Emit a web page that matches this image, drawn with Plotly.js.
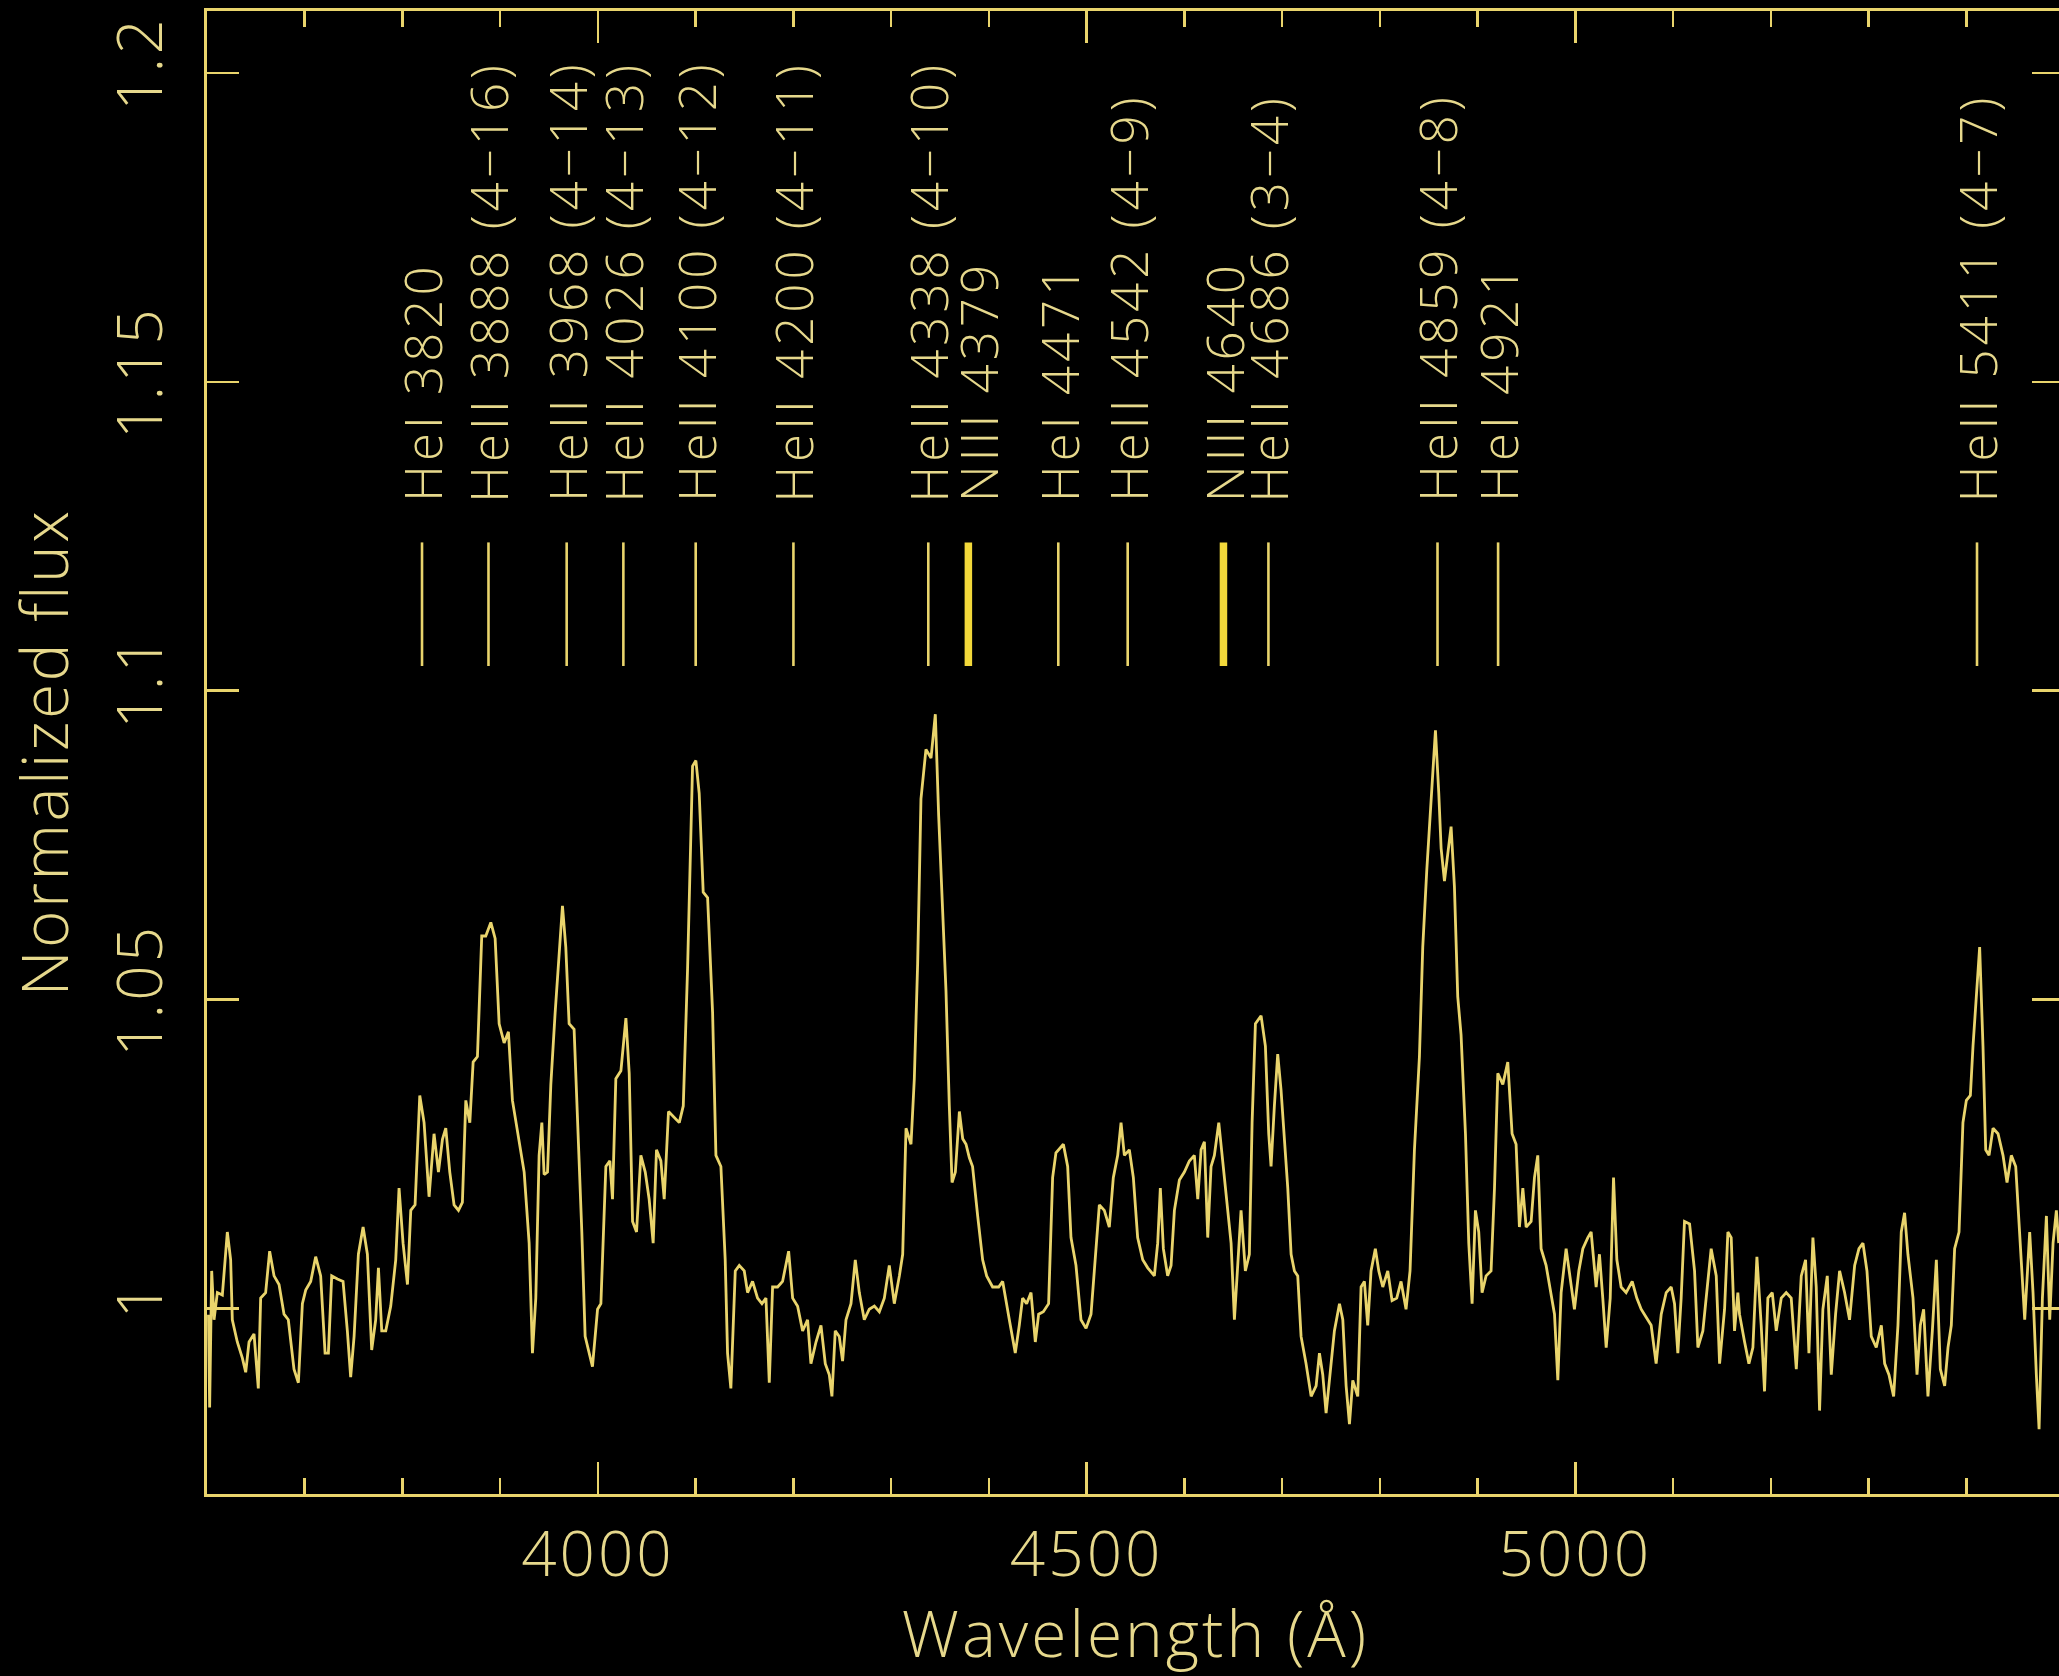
<!DOCTYPE html>
<html>
<head>
<meta charset="utf-8">
<script src="https://cdn.plot.ly/plotly-3.0.1.min.js"></script>
<style>
html, body { margin:0; padding:0; background:#000; overflow:hidden; }
#chart { width:2070px; height:1676px; }
#chart .annotation-text { letter-spacing: 4px; }
#chart .xtick text, #chart .ytick text { letter-spacing: 3px; }
#chart text.xtitle { letter-spacing: 3px; }
#chart text.ytitle { letter-spacing: 2.5px; }
</style>
</head>
<body>
<div id="chart"></div>
<script>
// Spectrum (wavelength in Angstrom, normalized flux)
const wavelength = [
3601.5,3602.7,3604.8,3607.2,3610.6,3615.7,3620.8,3624.2,3625.9,3631.0,3636.2,3639.6,3643.0,3648.1,3652.5,3654.9,3660.0,3664.1,3668.6,3673.7,
3678.8,3683.2,3689.0,3693.5,3697.6,3701.0,3706.1,3711.2,3716.3,3720.8,3724.2,3727.6,3733.4,3739.2,3743.6,3747.0,3750.5,3754.9,3759.7,3764.1,
3768.5,3772.6,3775.4,3778.8,3782.9,3788.0,3793.1,3796.5,3800.6,3805.1,3808.5,3812.9,3817.7,3822.1,3827.2,3832.3,3836.8,3840.9,3844.3,3848.4,
3852.8,3857.3,3861.3,3864.8,3868.9,3872.3,3876.7,3881.1,3885.2,3890.4,3894.8,3898.9,3904.0,3908.4,3912.5,3919.4,3924.5,3929.6,3933.0,3936.4,
3939.8,3942.6,3944.9,3948.4,3951.8,3956.2,3960.3,3963.7,3967.1,3970.5,3975.6,3979.1,3983.5,3986.9,3991.0,3994.4,
3999.6,4003.0,4008.1,4012.2,4014.9,4018.3,4023.5,4028.6,4032.0,4035.4,4039.5,4043.9,4048.4,4052.4,4056.5,4059.9,4064.4,4067.8,4072.2,4078.0,
4083.2,4087.3,4091.7,4096.8,4100.2,4103.6,4107.7,4112.2,4117.3,4120.7,4125.8,4130.2,4132.6,4136.0,4140.5,4144.6,4149.7,4153.1,4158.2,4163.3,
4167.8,4171.9,4175.3,4178.7,4183.8,4188.9,4195.1,4199.2,4204.3,4209.4,4214.5,4217.9,4223.1,4228.2,4232.6,4236.7,4239.4,4242.8,4246.9,4250.3,
4253.8,4258.9,4263.3,4267.4,4272.5,4277.6,4282.8,4287.9,4293.0,4298.1,4303.2,4308.4,4311.8,4315.2,4320.3,4323.7,4327.1,4330.5,4335.6,4340.8,
4345.2,4348.6,4352.7,4356.1,4359.5,4362.3,4365.7,4369.8,4373.2,4376.6,4380.0,4383.3,
4388.5,4393.6,4397.7,4403.8,4410.0,4414.1,4420.9,4427.0,4431.1,4434.5,4438.6,4443.1,4447.5,4450.9,4455.7,4461.1,4465.2,4468.6,4476.2,4480.6,
4484.0,4489.1,4494.2,4499.4,4504.5,4509.6,4513.0,4518.1,4523.2,4527.3,4531.8,4535.2,4538.6,4543.7,4547.8,4552.2,4557.4,4562.5,4569.3,4572.7,
4575.4,4578.5,4582.9,4586.4,4589.8,4594.9,4600.0,4605.1,4610.2,4613.7,4617.1,4620.5,4623.9,4627.3,4630.7,4635.2,4639.2,4642.7,4647.8,4651.2,
4654.6,4658.0,4662.4,4666.5,4669.3,4672.7,4678.5,4682.9,4686.3,4688.7,4692.1,4695.5,4698.9,4702.4,4705.8,4709.2,4712.6,4716.0,4719.4,4724.5,
4729.7,4734.8,4738.2,4741.6,4745.0,4748.4,4753.5,4758.7,4762.1,4765.5,4768.9,4772.3,4777.4,
4780.8,4784.2,4787.6,4791.0,4795.4,4798.9,4803.0,4808.1,4812.5,4817.3,4821.7,4826.8,4830.9,4835.4,4840.5,4843.9,4848.0,4851.4,4854.1,4856.9,
4860.3,4862.7,4866.1,4869.5,4872.9,4876.3,4879.7,4883.1,4887.6,4891.0,4894.4,4897.8,4901.2,4904.6,4908.7,4913.8,4917.3,4920.7,4925.8,4930.9,
4935.3,4939.4,4942.8,4946.3,4949.7,4954.8,4958.2,4961.6,4965.0,4970.1,4975.3,4978.7,4982.1,4985.5,4990.6,4994.7,4999.1,5003.6,5007.7,5012.8,
5016.2,5021.3,5024.7,5028.1,5031.6,5035.7,5039.1,5042.5,5046.9,5052.0,5058.2,5062.9,5067.4,5072.5,5077.6,5082.7,5087.9,5093.0,5098.1,5101.5,
5104.9,5108.3,5111.7,5116.9,5122.0,5125.4,5130.5,5135.6,5139.0,5144.2,5147.6,5152.7,5156.1,5159.5,5162.9,5166.3,
5168.0,5173.2,5177.6,5181.7,5185.8,5190.2,5193.6,5197.0,5201.5,5205.6,5210.7,5215.8,5220.9,5226.1,5231.2,5235.6,5239.0,5243.1,5246.5,5249.9,
5253.3,5257.8,5261.9,5266.3,5270.4,5275.5,5280.6,5285.8,5290.2,5294.3,5298.4,5302.8,5307.9,5313.1,5316.5,5320.9,5325.7,5330.1,5333.5,5336.9,
5340.3,5345.5,5349.6,5353.0,5356.4,5360.8,5365.3,5369.4,5373.5,5377.9,5381.3,5384.7,5388.1,5392.6,5396.6,5400.1,5404.2,5406.9,5410.3,5413.7,
5417.1,5419.9,5423.3,5427.4,5432.5,5437.6,5441.7,5446.1,5450.6,5454.7,5459.8,5464.9,5468.3,5471.7,5474.5,5477.9,5482.0,5485.4,5488.8,5492.2,5494.6
];
const flux = [
0.9990,0.9840,1.0061,0.9982,1.0026,1.0022,1.0124,1.0079,0.9982,0.9946,0.9920,0.9897,0.9946,0.9959,0.9871,1.0017,1.0026,1.0093,1.0053,1.0039,
0.9991,0.9982,0.9902,0.9880,1.0008,1.0030,1.0044,1.0084,1.0053,0.9928,0.9928,1.0053,1.0048,1.0044,0.9964,0.9889,0.9955,1.0088,1.0132,1.0088,
0.9933,0.9982,1.0066,0.9964,0.9964,1.0004,1.0079,1.0195,1.0106,1.0039,1.0159,1.0168,1.0345,1.0301,1.0181,1.0283,1.0221,1.0274,1.0292,1.0221,
1.0168,1.0159,1.0172,1.0337,1.0301,1.0399,1.0408,1.0603,1.0603,1.0625,1.0599,1.0461,1.0430,1.0448,1.0337,1.0266,1.0221,1.0106,0.9928,1.0017,
1.0248,1.0301,1.0217,1.0221,1.0363,1.0479,1.0576,1.0652,1.0585,1.0461,1.0452,1.0310,1.0124,0.9955,0.9928,0.9906,
0.9999,1.0008,1.0230,1.0239,1.0177,1.0372,1.0385,1.0470,1.0381,1.0141,1.0124,1.0248,1.0221,1.0177,1.0106,1.0257,1.0239,1.0177,1.0319,1.0310,
1.0301,1.0328,1.0550,1.0878,1.0887,1.0834,1.0674,1.0665,1.0479,1.0248,1.0230,1.0079,0.9928,0.9871,1.0061,1.0070,1.0061,1.0026,1.0044,1.0017,
1.0008,1.0017,0.9880,1.0035,1.0035,1.0044,1.0093,1.0017,1.0004,0.9964,0.9982,0.9911,0.9946,0.9973,0.9911,0.9893,0.9858,0.9964,0.9955,0.9915,
0.9982,1.0008,1.0079,1.0026,0.9982,0.9999,1.0004,0.9995,1.0017,1.0070,1.0008,1.0053,1.0088,1.0292,1.0266,1.0372,1.0558,1.0825,1.0905,1.0891,
1.0962,1.0798,1.0638,1.0514,1.0328,1.0204,1.0221,1.0319,1.0275,1.0266,1.0244,1.0230,
1.0150,1.0079,1.0053,1.0035,1.0035,1.0044,0.9982,0.9928,0.9973,1.0017,1.0008,1.0026,0.9946,0.9991,0.9995,1.0008,1.0212,1.0252,1.0266,1.0230,
1.0115,1.0070,0.9982,0.9968,0.9991,1.0097,1.0168,1.0159,1.0132,1.0212,1.0248,1.0301,1.0248,1.0257,1.0212,1.0115,1.0079,1.0066,1.0053,1.0106,
1.0195,1.0097,1.0053,1.0070,1.0159,1.0208,1.0221,1.0239,1.0248,1.0177,1.0257,1.0270,1.0115,1.0230,1.0248,1.0301,1.0239,1.0177,1.0106,0.9982,
1.0079,1.0159,1.0061,1.0088,1.0301,1.0461,1.0474,1.0425,1.0283,1.0230,1.0328,1.0412,1.0354,1.0266,1.0195,1.0088,1.0061,1.0053,0.9955,0.9911,
0.9858,0.9875,0.9928,0.9893,0.9831,0.9884,0.9964,1.0008,0.9982,0.9875,0.9813,0.9884,0.9858,
1.0035,1.0044,0.9973,1.0061,1.0097,1.0061,1.0035,1.0061,1.0013,1.0017,1.0044,0.9999,1.0061,1.0257,1.0408,1.0585,1.0709,1.0789,1.0869,1.0936,
1.0834,1.0745,1.0692,1.0736,1.0780,1.0683,1.0505,1.0443,1.0283,1.0106,1.0008,1.0159,1.0124,1.0026,1.0053,1.0061,1.0195,1.0381,1.0363,1.0399,
1.0283,1.0266,1.0132,1.0195,1.0132,1.0141,1.0212,1.0248,1.0097,1.0070,1.0026,0.9991,0.9884,1.0026,1.0097,1.0053,0.9999,1.0061,1.0097,1.0115,
1.0124,1.0035,1.0088,1.0017,0.9937,1.0017,1.0212,1.0079,1.0035,1.0026,1.0044,1.0017,0.9999,0.9986,0.9973,0.9911,0.9991,1.0026,1.0035,1.0008,
0.9928,1.0017,1.0141,1.0137,1.0061,0.9937,0.9964,1.0044,1.0097,1.0053,0.9911,0.9999,1.0124,1.0115,0.9964,1.0026,
0.9991,0.9946,0.9911,0.9937,1.0084,0.9973,0.9866,1.0017,1.0026,0.9964,1.0017,1.0026,1.0017,0.9902,1.0053,1.0079,0.9928,1.0115,1.0035,0.9835,
0.9999,1.0053,0.9893,0.9991,1.0061,1.0026,0.9982,1.0070,1.0097,1.0106,1.0061,0.9955,0.9937,0.9973,0.9911,0.9893,0.9858,0.9973,1.0124,1.0155,
1.0088,1.0017,0.9893,0.9973,0.9999,0.9858,0.9964,1.0079,0.9902,0.9875,0.9937,0.9973,1.0097,1.0124,1.0301,1.0337,1.0345,1.0425,1.0505,1.0585,
1.0425,1.0257,1.0248,1.0292,1.0283,1.0248,1.0204,1.0248,1.0230,1.0115,0.9982,1.0124,1.0026,0.9893,0.9805,1.0017,1.0150,0.9982,1.0106,1.0159,1.0106
];

// Identified lines
const lineWave = [3820, 3888, 3968, 4026, 4100, 4200, 4338, 4379, 4471, 4542, 4640, 4686, 4859, 4921, 5411];
const lineLabel = [
  "HeI 3820", "HeII 3888 (4\u221216)", "HeII 3968 (4\u221214)", "HeII 4026 (4\u221213)",
  "HeII 4100 (4\u221212)", "HeII 4200 (4\u221211)", "HeII 4338 (4\u221210)", "NIII 4379",
  "HeI 4471", "HeII 4542 (4\u22129)", "NIII 4640", "HeII 4686 (3\u22124)",
  "HeII 4859 (4\u22128)", "HeI 4921", "HeII 5411 (4\u22127)"
];
const lineIsNIII = [false,false,false,false,false,false,false,true,false,false,true,false,false,false,false];

// Axis ticks
const xMajorTicks = [4000, 4500, 5000];
const yTicks = [1, 1.05, 1.1, 1.15, 1.2];
const yTickText = ["1", "1.05", "1.1", "1.15", "1.2"];

const markBottom = 1.104, markTop = 1.124, labelBase = 1.131;

const LINE = '#E9D46C';
const TEXT = '#E6D88C';
const FONT = '"Open Sans", "DejaVu Sans", sans-serif';
const LABEL_SPACING = 4; // px, matches the CSS letter-spacing of annotation text

function segs(filter) {
  const xs = [], ys = [];
  lineWave.forEach((w, i) => {
    if (lineIsNIII[i] === filter) { xs.push(w, w, null); ys.push(markBottom, markTop, null); }
  });
  return {x: xs, y: ys};
}
const thin = segs(false), thick = segs(true);

const traces = [
  {x: wavelength, y: flux, type: 'scatter', mode: 'lines', line: {color: LINE, width: 2.8}, hoverinfo: 'skip'},
  {x: thin.x, y: thin.y, type: 'scatter', mode: 'lines', line: {color: LINE, width: 2.6}, hoverinfo: 'skip', connectgaps: false},
  {x: thick.x, y: thick.y, type: 'scatter', mode: 'lines', line: {color: '#F2D83A', width: 7.5}, hoverinfo: 'skip', connectgaps: false}
];

// letter-spacing widens the centered text on both ends; shift so every label starts at the same base
const annotations = lineWave.map((w, i) => ({
  x: w, y: labelBase, xref: 'x', yref: 'y', text: lineLabel[i], showarrow: false,
  textangle: -90, xanchor: 'center', yanchor: 'bottom',
  xshift: (w === 4379 ? 9 : 0),
  yshift: lineLabel[i].length * LABEL_SPACING / 2 - 5,
  font: {family: FONT, size: 51, color: TEXT, weight: 300}
}));

const layout = {
  width: 2070, height: 1676,
  paper_bgcolor: '#000', plot_bgcolor: '#000',
  margin: {l: 207, r: 6, t: 11, b: 182},
  showlegend: false,
  font: {family: FONT, color: TEXT, weight: 300},
  xaxis: {
    range: [3600, 5500], showgrid: false, zeroline: false,
    showline: true, linecolor: LINE, linewidth: 3, mirror: 'ticks',
    ticks: 'inside', ticklen: 32, tickwidth: 2.5, tickcolor: LINE,
    tickvals: xMajorTicks, ticktext: xMajorTicks.map(String),
    tickfont: {family: FONT, size: 62, color: TEXT, weight: 300},
    ticklabelstandoff: 5,
    minor: {dtick: 100, tick0: 3600, ticks: 'inside', ticklen: 16, tickwidth: 2.5, tickcolor: LINE, showgrid: false},
    title: {text: 'Wavelength (\u00C5)', font: {family: FONT, size: 64, color: TEXT, weight: 300}, standoff: 41}
  },
  yaxis: {
    range: [0.97, 1.21], showgrid: false, zeroline: false,
    showline: true, linecolor: LINE, linewidth: 3, mirror: 'ticks',
    ticks: 'inside', ticklen: 32, tickwidth: 2.5, tickcolor: LINE,
    tickvals: yTicks, ticktext: yTickText, tickangle: -90,
    tickfont: {family: FONT, size: 62, color: TEXT, weight: 300},
    ticklabelstandoff: 17,
    title: {text: 'Normalized flux', font: {family: FONT, size: 64, color: TEXT, weight: 300}, standoff: 35}
  },
  annotations: annotations
};

Plotly.newPlot('chart', traces, layout, {staticPlot: true, displayModeBar: false});
</script>
</body>
</html>
